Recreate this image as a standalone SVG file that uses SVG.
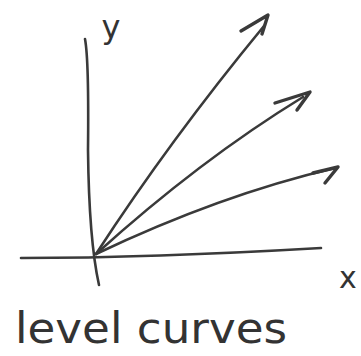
<svg xmlns="http://www.w3.org/2000/svg" width="361" height="356" viewBox="0 0 361 356">
<style>
.ln{fill:none;stroke:#3a3a3a;stroke-width:2.6;stroke-linecap:round;stroke-linejoin:round}
.ar{fill:none;stroke:#3a3a3a;stroke-width:3.4;stroke-linecap:round;stroke-linejoin:round}
.lbl{font-family:"DejaVu Sans",sans-serif;fill:#333}
</style>
<rect width="361" height="356" fill="#fff"/>
<g id="axes">
<path class="ln" d="M85 39 Q89 60 88 150 Q89 240 99 285"/>
<path class="ln" d="M21 258 Q150 258 321 248"/>
</g>
<g id="connectors">
<path class="ln" d="M96 254 Q170 140 264 26"/>
<path class="ar" d="M241 31 L268 15 L262 34"/>
<path class="ln" d="M96 254 Q200 160 303 97"/>
<path class="ar" d="M275 103 L310 92 L297 110"/>
<path class="ln" d="M96 254 Q220 195 335 168"/>
<path class="ar" d="M313 173 L338 167 L325 183"/>
</g>
<g id="label-y"><text class="lbl" x="111" y="38" font-size="32" text-anchor="middle">y</text></g>
<g id="label-x"><text class="lbl" x="348" y="288" font-size="30" text-anchor="middle">x</text></g>
<g id="label-title"><text class="lbl" x="15" y="343" font-size="42" textLength="272" lengthAdjust="spacingAndGlyphs">level curves</text></g>
</svg>
